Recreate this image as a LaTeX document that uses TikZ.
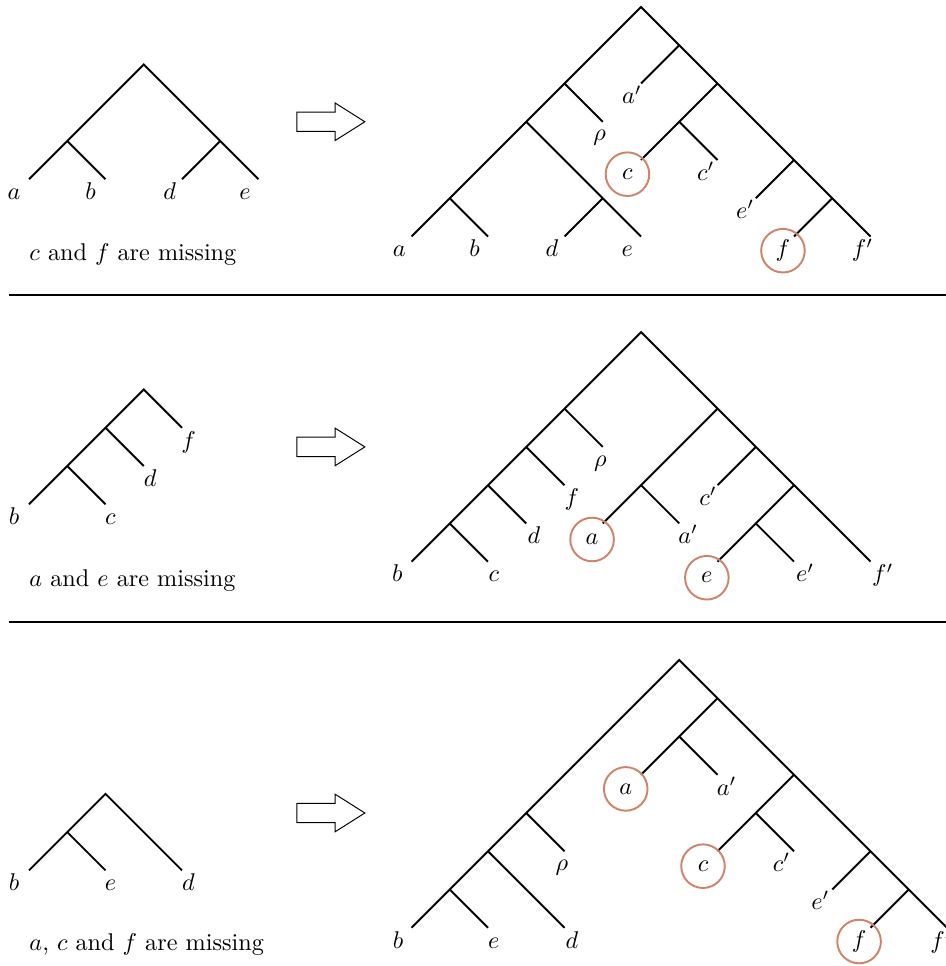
\documentclass[tikz,border=0pt]{standalone}
\usetikzlibrary{calc}
\definecolor{missc}{RGB}{207,131,105}
\begin{document}
\begin{tikzpicture}[x=15.8pt,y=-15.8pt,
  br/.style={line width=0.8pt},
  lab/.style={anchor=base,inner sep=0pt},
  miss/.style={circle,draw=missc,line width=0.8pt,minimum size=18pt,inner sep=0pt},
  captext/.style={anchor=base west,inner sep=0pt},
  blockarrow/.style={draw,line width=0.4pt,fill=white},
  sepline/.style={line width=1pt}]
\useasboundingbox (-0.758,-0.183) rectangle (23.948,25.07);

% ---------------- separators
\coordinate (s1a) at (-0.52,7.53); \coordinate (s1b) at (24.2,7.53);
\coordinate (s2a) at (-0.52,16.08); \coordinate (s2b) at (24.2,16.08);
\draw[sepline] (s1a) -- (s1b);
\draw[sepline] (s2a) -- (s2b);

% ---------------- block arrows
\foreach \yc in {3,11.5,21.07}{
  \draw[blockarrow] (7,\yc-0.254) -- (8,\yc-0.254) -- (8,\yc-0.493) -- (8.78,\yc)
    -- (8,\yc+0.493) -- (8,\yc+0.254) -- (7,\yc+0.254) -- cycle;
}

% ================= PANEL 1 =================
% left tree
\coordinate (p1r) at (3,1.5);
\coordinate (p1n1) at (1,3.5);
\coordinate (p1n2) at (5,3.5);
\coordinate (p1a) at (0,4.5);
\coordinate (p1b) at (2,4.5);
\coordinate (p1d) at (4,4.5);
\coordinate (p1e) at (6,4.5);
\draw[br] (p1a) -- (p1n1) -- (p1r) -- (p1n2) -- (p1e);
\draw[br] (p1n1) -- (p1b);
\draw[br] (p1n2) -- (p1d);
\node[lab] (p1la) at ($(p1a)+(-0.39,0.53)$) {$a$};
\node[lab] (p1lb) at ($(p1b)+(-0.39,0.53)$) {$b$};
\node[lab] (p1ld) at ($(p1d)+(-0.32,0.53)$) {$d$};
\node[lab] (p1le) at ($(p1e)+(-0.35,0.53)$) {$e$};
\node[captext] (p1cap) at (0,6.62) {$c$ and $f$ are missing};

% right tree
\coordinate (q1R) at (16,0);
\coordinate (q1L1) at (14,2);
\coordinate (q1rho) at (15,3);
\coordinate (q1L2) at (13,3);
\coordinate (q1M1) at (15,5);
\coordinate (q1e) at (16,6);
\coordinate (q1d) at (14,6);
\coordinate (q1L3) at (11,5);
\coordinate (q1a) at (10,6);
\coordinate (q1b) at (12,6);
\coordinate (q1Q1) at (17,1);
\coordinate (q1ap) at (16,2);
\coordinate (q1Q2) at (18,2);
\coordinate (q1Q3) at (17,3);
\coordinate (q1c) at (16,4);
\coordinate (q1cp) at (18,4);
\coordinate (q1Q4) at (20,4);
\coordinate (q1ep) at (19,5);
\coordinate (q1Q5) at (21,5);
\coordinate (q1f) at (20,6);
\coordinate (q1fp) at (22,6);
\draw[br] (q1a) -- (q1L3) -- (q1L2) -- (q1L1) -- (q1R) -- (q1Q1) -- (q1Q2) -- (q1Q4) -- (q1Q5) -- (q1fp);
\draw[br] (q1L1) -- (q1rho);
\draw[br] (q1L2) -- (q1M1) -- (q1e);
\draw[br] (q1M1) -- (q1d);
\draw[br] (q1L3) -- (q1b);
\draw[br] (q1Q1) -- (q1ap);
\draw[br] (q1Q2) -- (q1Q3) -- (q1c);
\draw[br] (q1Q3) -- (q1cp);
\draw[br] (q1Q4) -- (q1ep);
\draw[br] (q1Q5) -- (q1f);
\node[lab] (q1la) at ($(q1a)+(-0.32,0.53)$) {$a$};
\node[lab] (q1lb) at ($(q1b)+(-0.35,0.53)$) {$b$};
\node[lab] (q1ld) at ($(q1d)+(-0.33,0.53)$) {$d$};
\node[lab] (q1le) at ($(q1e)+(-0.36,0.53)$) {$e$};
\node[lab] (q1lfp) at ($(q1fp)+(-0.21,0.53)$) {$f'$};
\node[lab] (q1lap) at ($(q1ap)+(-0.24,0.53)$) {$a'$};
\node[lab] (q1lcp) at ($(q1cp)+(-0.31,0.53)$) {$c'$};
\node[lab] (q1lep) at ($(q1ep)+(-0.28,0.53)$) {$e'$};
\node[lab] (q1lrho) at ($(q1rho)+(-0.08,0.5)$) {$\rho$};
\node[miss] (q1mc) at ($(q1c)+(-0.355,0.37)$) {$c$};
\node[miss] (q1mf) at ($(q1f)+(-0.29,0.37)$) {$f$};

% ================= PANEL 2 =================
\coordinate (p2r) at (3,10);
\coordinate (p2n1) at (2,11);
\coordinate (p2n2) at (1,12);
\coordinate (p2b) at (0,13);
\coordinate (p2c) at (2,13);
\coordinate (p2d) at (3,12);
\coordinate (p2f) at (4,11);
\draw[br] (p2b) -- (p2n2) -- (p2n1) -- (p2r) -- (p2f);
\draw[br] (p2n2) -- (p2c);
\draw[br] (p2n1) -- (p2d);
\node[lab] (p2lb) at ($(p2b)+(-0.39,0.53)$) {$b$};
\node[lab] (p2lc) at ($(p2c)+(0.13,0.53)$) {$c$};
\node[lab] (p2ld) at ($(p2d)+(0.17,0.53)$) {$d$};
\node[lab] (p2lf) at ($(p2f)+(0.17,0.53)$) {$f$};
\node[captext] (p2cap) at (0,15.14) {$a$ and $e$ are missing};

\coordinate (q2R) at (16,8.5);
\coordinate (q2L1) at (14,10.5);
\coordinate (q2rho) at (15,11.5);
\coordinate (q2L2) at (13,11.5);
\coordinate (q2f) at (14,12.5);
\coordinate (q2L3) at (12,12.5);
\coordinate (q2d) at (13,13.5);
\coordinate (q2L4) at (11,13.5);
\coordinate (q2b) at (10,14.5);
\coordinate (q2c) at (12,14.5);
\coordinate (q2Q1) at (18,10.5);
\coordinate (q2Q2) at (16,12.5);
\coordinate (q2a) at (15,13.5);
\coordinate (q2ap) at (17,13.5);
\coordinate (q2Q3) at (19,11.5);
\coordinate (q2cp) at (18,12.5);
\coordinate (q2Q4) at (20,12.5);
\coordinate (q2Q5) at (19,13.5);
\coordinate (q2e) at (18,14.5);
\coordinate (q2ep) at (20,14.5);
\coordinate (q2fp) at (22,14.5);
\draw[br] (q2b) -- (q2L4) -- (q2L3) -- (q2L2) -- (q2L1) -- (q2R) -- (q2Q1) -- (q2Q3) -- (q2Q4) -- (q2fp);
\draw[br] (q2L1) -- (q2rho);
\draw[br] (q2L2) -- (q2f);
\draw[br] (q2L3) -- (q2d);
\draw[br] (q2L4) -- (q2c);
\draw[br] (q2Q1) -- (q2Q2) -- (q2a);
\draw[br] (q2Q2) -- (q2ap);
\draw[br] (q2Q3) -- (q2cp);
\draw[br] (q2Q4) -- (q2Q5) -- (q2e);
\draw[br] (q2Q5) -- (q2ep);
\node[lab] (q2lb) at ($(q2b)+(-0.37,0.53)$) {$b$};
\node[lab] (q2lc) at ($(q2c)+(0.15,0.53)$) {$c$};
\node[lab] (q2ld) at ($(q2d)+(0.2,0.53)$) {$d$};
\node[lab] (q2lf) at ($(q2f)+(0.19,0.53)$) {$f$};
\node[lab] (q2lrho) at ($(q2rho)+(-0.06,0.5)$) {$\rho$};
\node[lab] (q2lap) at ($(q2ap)+(0.23,0.53)$) {$a'$};
\node[lab] (q2lcp) at ($(q2cp)+(-0.25,0.53)$) {$c'$};
\node[lab] (q2lep) at ($(q2ep)+(0.29,0.53)$) {$e'$};
\node[lab] (q2lfp) at ($(q2fp)+(0.32,0.53)$) {$f'$};
\node[miss] (q2ma) at ($(q2a)+(-0.28,0.42)$) {$a$};
\node[miss] (q2me) at ($(q2e)+(-0.28,0.42)$) {$e$};

% ================= PANEL 3 =================
\node[captext] (p3cap) at (0,24.66) {$a$, $c$ and $f$ are missing};
\begin{scope}[shift={(0,0.07)}]
\coordinate (p3r) at (2,20.5);
\coordinate (p3n1) at (1,21.5);
\coordinate (p3b) at (0,22.5);
\coordinate (p3e) at (2,22.5);
\coordinate (p3d) at (4,22.5);
\draw[br] (p3b) -- (p3n1) -- (p3r) -- (p3d);
\draw[br] (p3n1) -- (p3e);
\node[lab] (p3lb) at ($(p3b)+(-0.39,0.53)$) {$b$};
\node[lab] (p3le) at ($(p3e)+(0.13,0.53)$) {$e$};
\node[lab] (p3ld) at ($(p3d)+(0.17,0.53)$) {$d$};

\coordinate (q3R) at (17,17);
\coordinate (q3L1) at (13,21);
\coordinate (q3rho) at (14,22);
\coordinate (q3L2) at (12,22);
\coordinate (q3d) at (14,24);
\coordinate (q3L3) at (11,23);
\coordinate (q3b) at (10,24);
\coordinate (q3e) at (12,24);
\coordinate (q3Q1) at (18,18);
\coordinate (q3Q2) at (17,19);
\coordinate (q3a) at (16,20);
\coordinate (q3ap) at (18,20);
\coordinate (q3Q3) at (20,20);
\coordinate (q3Q4) at (19,21);
\coordinate (q3c) at (18,22);
\coordinate (q3cp) at (20,22);
\coordinate (q3Q5) at (22,22);
\coordinate (q3ep) at (21,23);
\coordinate (q3Q6) at (23,23);
\coordinate (q3f) at (22,24);
\coordinate (q3fp) at (24,24);
\draw[br] (q3b) -- (q3L3) -- (q3L2) -- (q3L1) -- (q3R) -- (q3Q1) -- (q3Q3) -- (q3Q5) -- (q3Q6) -- (q3fp);
\draw[br] (q3L1) -- (q3rho);
\draw[br] (q3L2) -- (q3d);
\draw[br] (q3L3) -- (q3e);
\draw[br] (q3Q1) -- (q3Q2) -- (q3a);
\draw[br] (q3Q2) -- (q3ap);
\draw[br] (q3Q3) -- (q3Q4) -- (q3c);
\draw[br] (q3Q4) -- (q3cp);
\draw[br] (q3Q5) -- (q3ep);
\draw[br] (q3Q6) -- (q3f);
\node[lab] (q3lb) at ($(q3b)+(-0.35,0.53)$) {$b$};
\node[lab] (q3le) at ($(q3e)+(0.15,0.53)$) {$e$};
\node[lab] (q3ld) at ($(q3d)+(0.19,0.53)$) {$d$};
\node[lab] (q3lrho) at ($(q3rho)+(-0.07,0.5)$) {$\rho$};
\node[lab] (q3lap) at ($(q3ap)+(0.24,0.53)$) {$a'$};
\node[lab] (q3lcp) at ($(q3cp)+(-0.33,0.53)$) {$c'$};
\node[lab] (q3lep) at ($(q3ep)+(-0.31,0.53)$) {$e'$};
\node[lab] (q3lfp) at ($(q3fp)+(-0.16,0.53)$) {$f'$};
\node[miss] (q3ma) at ($(q3a)+(-0.4,0.37)$) {$a$};
\node[miss] (q3mc) at ($(q3c)+(-0.38,0.39)$) {$c$};
\node[miss] (q3mf) at ($(q3f)+(-0.3,0.36)$) {$f$};
\end{scope}
\end{tikzpicture}
\end{document}
